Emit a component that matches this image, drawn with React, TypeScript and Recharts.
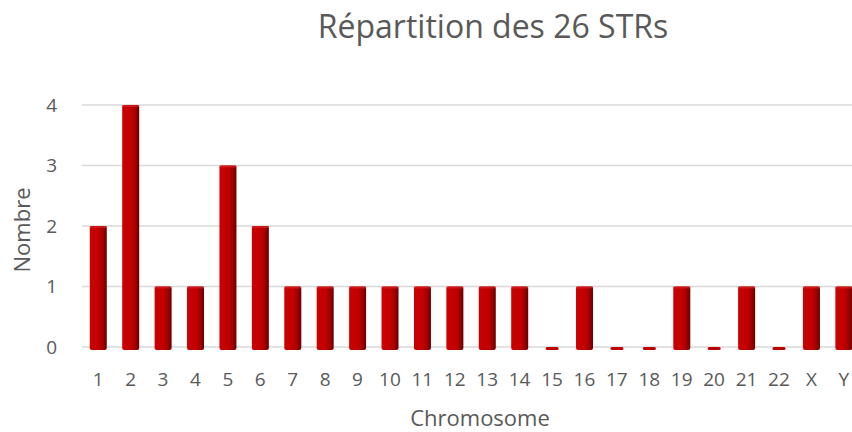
import React from 'react';
import { BarChart, Bar, XAxis, YAxis, CartesianGrid } from 'recharts';

const chromosomes = ['1', '2', '3', '4', '5', '6', '7', '8', '9', '10', '11', '12', '13', '14', '15', '16', '17', '18', '19', '20', '21', '22', 'X', 'Y'];
const counts = [2, 4, 1, 1, 3, 2, 1, 1, 1, 1, 1, 1, 1, 1, 0, 1, 0, 0, 1, 0, 1, 0, 1, 1];
const yTicks = [0, 1, 2, 3, 4];

const data = chromosomes.map((c, i) => ({ chromosome: c, nombre: counts[i] }));

const FONT = '"Open Sans", "Noto Sans", sans-serif';
const TEXT = '#595959';

// faux 3D column like the Excel original
const Column = (props: any) => {
  const { x, y, width, height } = props;
  if (height == null || isNaN(height)) return null;
  if (height <= 0.5) {
    return <rect x={x + 2} y={y} width={width - 4} height={3} rx={1.5} fill="#c00000" />;
  }
  return (
    <g>
      <rect x={x} y={y} width={width} height={height + 3} rx={2} fill="url(#colGrad)" />
      <rect x={x} y={y} width={width} height={2} fill="#d82020" opacity={0.7} />
    </g>
  );
};

export default function App() {
  return (
    <div style={{ position: 'absolute', left: 0, top: 0, width: 852, height: 432, overflow: 'hidden', background: '#fff' }}>
      <div
        style={{
          position: 'absolute',
          left: 0,
          width: 986,
          top: 4,
          textAlign: 'center',
          fontFamily: FONT,
          fontSize: 32,
          color: TEXT,
          whiteSpace: 'nowrap',
        }}
      >
        Répartition des 26 STRs
      </div>
      <BarChart
        width={860}
        height={432}
        data={data}
        margin={{ top: 105, right: 0, bottom: 0, left: 0 }}
        barCategoryGap="24%"
      >
        <defs>
          <linearGradient id="colGrad" x1="0" y1="0" x2="1" y2="0">
            <stop offset="0%" stopColor="#cc0000" />
            <stop offset="55%" stopColor="#c00000" />
            <stop offset="78%" stopColor="#a00000" />
            <stop offset="100%" stopColor="#650000" />
          </linearGradient>
        </defs>
        <CartesianGrid vertical={false} stroke="#d9d9d9" strokeWidth={1.5} />
        <XAxis
          dataKey="chromosome"
          interval={0}
          axisLine={false}
          tickLine={false}
          tickSize={0}
          tickMargin={26}
          height={85}
          tick={{ fill: TEXT, fontSize: 19, fontFamily: FONT }}
          label={{ value: 'Chromosome', position: 'insideBottom', offset: 6, dx: 9, fill: TEXT, fontSize: 22, fontFamily: FONT }}
        />
        <YAxis
          domain={[0, 4]}
          ticks={yTicks}
          width={82}
          axisLine={false}
          tickLine={false}
          tickSize={0}
          tickMargin={25}
          tick={{ fill: TEXT, fontSize: 19, fontFamily: FONT }}
          label={{
            value: 'Nombre',
            angle: -90,
            position: 'insideLeft',
            offset: 22,
            dy: 4,
            fill: TEXT,
            fontSize: 22,
            fontFamily: FONT,
            style: { textAnchor: 'middle' },
          }}
        />
        <Bar dataKey="nombre" shape={Column} isAnimationActive={false} />
      </BarChart>
    </div>
  );
}
